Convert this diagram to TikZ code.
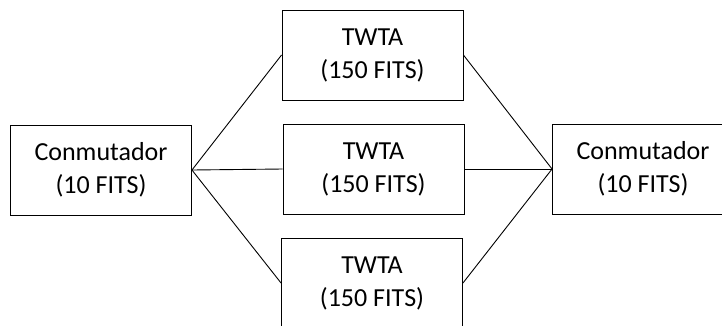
\documentclass[tikz,border=0pt]{standalone}
\usepackage{fontspec}
\setmainfont{Carlito}
\begin{document}
\begin{tikzpicture}[x=1pt,y=-1pt,
  blk/.style={draw, line width=0.9pt, rectangle, minimum width=181pt, minimum height=90pt, align=center, inner sep=0pt, font=\fontsize{26}{33}\selectfont},
  wire/.style={line width=0.9pt}]
\clip (0,0) rectangle (722,325);
\useasboundingbox (0,0) rectangle (722,325);
\node[blk] (L) at (101,170) {Conmutador\\(10 FITS)};
\node[blk] (T1) at (372.5,55) {TWTA\\(150 FITS)};
\node[blk] (T2) at (373.5,169) {TWTA\\(150 FITS)};
\node[blk] (T3) at (372,283) {TWTA\\(150 FITS)};
\node[blk] (R) at (643,169) {Conmutador\\(10 FITS)};
\draw[wire] (L.east) -- (T1.west);
\draw[wire] (L.east) -- (T2.west);
\draw[wire] (L.east) -- (T3.west);
\draw[wire] (T1.east) -- (R.west);
\draw[wire] (T2.east) -- (R.west);
\draw[wire] (T3.east) -- (R.west);
\end{tikzpicture}
\end{document}
